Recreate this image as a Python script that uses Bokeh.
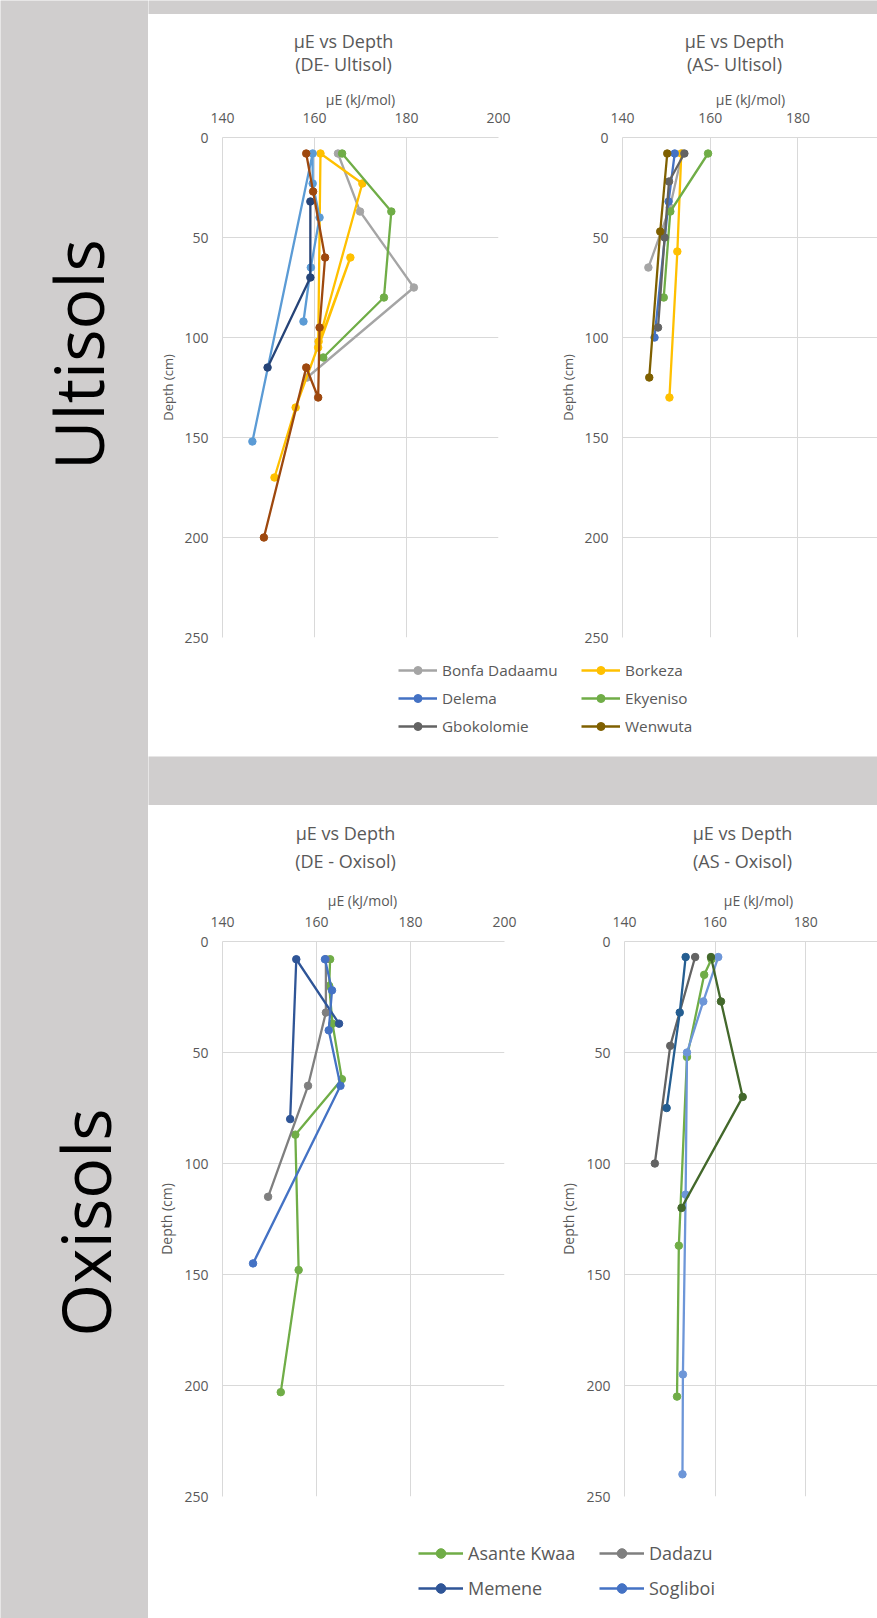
import math
import numpy as np
from bokeh.plotting import figure
from bokeh.models import Range1d, FixedTicker, Label, Legend, LegendItem
from bokeh.layouts import row, column
from bokeh.embed import file_html
from bokeh.resources import INLINE

# ---------------- data ----------------
mu_ticks = [140, 160, 180, 200]
depth_ticks = [0, 50, 100, 150, 200, 250]

ult_names = ["Bonfa Dadaamu", "Borkeza", "Delema", "Ekyeniso", "Gbokolomie", "Wenwuta"]
oxi_names = ["Asante Kwaa", "Dadazu", "Memene", "Sogliboi"]

# DE - Ultisol (muE kJ/mol, depth cm)
de_bonfa_mu = [165.1, 169.9, 181.6, 158.4]
de_bonfa_depth = [8, 37, 75, 120]
de_borkeza_mu = [160.9, 170.4, 161.3, 160.8, 167.8, 155.9, 151.3]
de_borkeza_depth = [102, 23, 8, 105, 60, 135, 170]
de_delema_mu = [146.5, 159.6, 159.6, 161.1, 159.2, 157.6]
de_delema_depth = [152, 8, 23, 40, 65, 92]
de_ekyeniso_mu = [166.0, 176.7, 175.1, 161.9]
de_ekyeniso_depth = [8, 37, 80, 110]
de_gbok_mu = [159.1, 159.1, 149.8]
de_gbok_depth = [32, 70, 115]
de_wenwuta_mu = [158.2, 159.7, 162.3, 161.1, 160.8, 158.2, 149.0]
de_wenwuta_depth = [8, 27, 60, 95, 130, 115, 200]

# AS - Ultisol
as_bonfa_mu = [153.6, 150.8, 145.9]
as_bonfa_depth = [8, 35, 65]
as_borkeza_mu = [153.4, 152.5, 150.7]
as_borkeza_depth = [8, 57, 130]
as_delema_mu = [151.9, 150.5, 147.3]
as_delema_depth = [8, 32, 100]
as_ekyeniso_mu = [159.5, 150.9, 149.4]
as_ekyeniso_depth = [8, 37, 80]
as_gbok_mu = [154.1, 150.6, 149.6, 148.1]
as_gbok_depth = [8, 22, 50, 95]
as_wenwuta_mu = [150.2, 148.6, 146.1]
as_wenwuta_depth = [8, 47, 120]

# DE - Oxisol
de_asante_mu = [162.9, 162.7, 163.4, 165.4, 155.5, 156.2, 152.4]
de_asante_depth = [8, 20, 37, 62, 87, 148, 203]
de_dadazu_mu = [162.0, 162.0, 158.2, 149.7]
de_dadazu_depth = [8, 32, 65, 115]
de_memene_mu = [164.8, 155.7, 154.4]
de_memene_depth = [37, 8, 80]
de_sogliboi_mu = [161.8, 163.3, 162.6, 165.1, 146.5]
de_sogliboi_depth = [8, 22, 40, 65, 145]

# AS - Oxisol
as_asante_mu = [159.2, 157.6, 153.8, 152.0, 151.6]
as_asante_depth = [8, 15, 52, 137, 205]
as_dadazu_mu = [155.6, 150.1, 146.7]
as_dadazu_depth = [7, 47, 100]
as_memene_mu = [153.5, 152.2, 149.3]
as_memene_depth = [7, 32, 75]
as_sogliboi_mu = [160.7, 157.4, 153.8, 153.5, 152.9, 152.8]
as_sogliboi_depth = [7, 27, 50, 114, 195, 240]
as_extra_mu = [159.1, 161.3, 166.1, 152.6]
as_extra_depth = [7, 27, 70, 120]

# ---------------- styles ----------------
FONT = "Open Sans"
TXT = "#595959"
GRID = "#d9d9d9"
GRAY = "#d0cece"

de_ult_colors = ["#A5A5A5", "#FFC000", "#5B9BD5", "#70AD47", "#264478", "#9E480E"]
as_ult_colors = ["#A5A5A5", "#FFC000", "#4472C4", "#70AD47", "#636363", "#7F6000"]
de_oxi_colors = ["#70AD47", "#7F7F7F", "#2F5597", "#4472C4"]
as_oxi_colors = ["#70AD47", "#636363", "#255E91", "#6D96D8", "#43682B"]


def make_panel(w, h, bl, br, bt, bb, x_end, yl_size, yl_standoff):
    p = figure(width=w, height=h, output_backend="svg", toolbar_location=None,
               x_range=Range1d(140, x_end), y_range=Range1d(250, 0),
               x_axis_location="above", y_axis_location="left",
               y_axis_label="Depth (cm)",
               min_border_left=bl, min_border_right=br,
               min_border_top=bt, min_border_bottom=bb)
    p.outline_line_color = None
    p.border_fill_color = "white"
    p.background_fill_color = "white"
    p.xaxis.ticker = FixedTicker(ticks=mu_ticks)
    p.yaxis.ticker = FixedTicker(ticks=depth_ticks)
    p.axis.axis_line_color = GRID
    p.axis.major_tick_line_color = None
    p.axis.minor_tick_line_color = None
    p.axis.major_label_text_font = FONT
    p.axis.major_label_text_font_size = "14px"
    p.axis.major_label_text_color = TXT
    p.yaxis.axis_label_text_font = FONT
    p.yaxis.axis_label_text_font_style = "normal"
    p.yaxis.axis_label_text_color = TXT
    p.yaxis.axis_label_text_font_size = yl_size
    p.xaxis.major_label_standoff = 9
    p.yaxis.major_label_standoff = 8
    p.yaxis.axis_label_standoff = yl_standoff
    p.grid.grid_line_color = GRID
    p.grid.grid_line_width = 1
    return p


def draw_series(p, mu, depth, color):
    p.line(mu, depth, line_color=color, line_width=2.3)
    p.scatter(mu, depth, marker="circle", size=7.5, fill_color=color, line_color=color)


def plain(x0, y0, w, h, color):
    # a box whose data coordinates are the page's pixel coordinates
    f = figure(width=w, height=h, output_backend="svg", toolbar_location=None,
               x_range=Range1d(x0, x0 + w), y_range=Range1d(y0 + h, y0),
               x_axis_location=None, y_axis_location=None, min_border=0)
    f.grid.visible = False
    f.outline_line_color = None
    f.background_fill_color = color
    f.border_fill_color = color
    return f


def head(x0, y0, w, h, cx, y1, y2, sub, ax_x, ax_y):
    f = plain(x0, y0, w, h, "white")
    for xx, yy, t, fs in ((cx, y1, "µE vs Depth", "18px"), (cx, y2, sub, "18px"),
                          (ax_x, ax_y, "µE (kJ/mol)", "14px")):
        f.add_layout(Label(x=xx, y=yy, text=t, text_font=FONT, text_font_size=fs,
                           text_color=TXT, text_align="center", text_baseline="middle"))
    return f


def legend_box(f, names, colors, loc, gw, gh, sp, fs):
    items = []
    for n, c in zip(names, colors):
        lr = f.line(x=np.array([np.nan]), y=np.array([np.nan]), line_color=c, line_width=2.3)
        sr = f.scatter(x=np.array([np.nan]), y=np.array([np.nan]), marker="circle",
                       size=7, fill_color=c, line_color=c)
        items.append(LegendItem(label=n, renderers=[lr, sr]))
    leg = Legend(items=items, location=loc, orientation="vertical",
                 glyph_width=gw, glyph_height=gh, label_height=gh, label_standoff=5,
                 spacing=sp, padding=0, margin=0, border_line_color=None,
                 background_fill_alpha=0, label_text_font=FONT,
                 label_text_font_size=fs, label_text_color=TXT,
                 inactive_fill_alpha=0)
    f.add_layout(leg)


# ---- top row ----
h1 = head(148, 14, 408, 94, 343, 40, 63, "(DE- Ultisol)", 360, 99)
h2 = head(556, 14, 321, 94, 734, 40, 63, "(AS- Ultisol)", 750, 99)

f1 = make_panel(408, 540, 74, 58, 29, 11, 200, "13px", 4)
for mu, d, c in zip([de_bonfa_mu, de_borkeza_mu, de_delema_mu, de_ekyeniso_mu, de_gbok_mu, de_wenwuta_mu],
                    [de_bonfa_depth, de_borkeza_depth, de_delema_depth, de_ekyeniso_depth, de_gbok_depth, de_wenwuta_depth],
                    de_ult_colors):
    draw_series(f1, mu, d, c)

f2 = make_panel(321, 540, 58, 0, 29, 11, 140 + 263 / 4.525, "13px", 4)
for mu, d, c in zip([as_bonfa_mu, as_borkeza_mu, as_delema_mu, as_ekyeniso_mu, as_gbok_mu, as_wenwuta_mu],
                    [as_bonfa_depth, as_borkeza_depth, as_delema_depth, as_ekyeniso_depth, as_gbok_depth, as_wenwuta_depth],
                    as_ult_colors):
    draw_series(f2, mu, d, c)

leg1 = plain(148, 648, 729, 108, "white")
legend_box(leg1, ult_names[0::2], as_ult_colors[0::2], (250, 20), 39, 20, 8, "15.3px")
legend_box(leg1, ult_names[1::2], as_ult_colors[1::2], (433, 20), 39, 20, 8, "15.3px")

gap_top = plain(148, 0, 729, 14, GRAY)
gap_mid = plain(148, 756, 729, 49, GRAY)

# ---- bottom row ----
h3 = head(148, 805, 408, 107, 345, 832, 860, "(DE - Oxisol)", 362, 900)
h4 = head(556, 805, 321, 107, 742, 832, 860, "(AS - Oxisol)", 758, 900)

f3 = make_panel(408, 598, 74, 52, 29, 14, 200, "14px", 5)
for mu, d, c in zip([de_asante_mu, de_dadazu_mu, de_memene_mu, de_sogliboi_mu],
                    [de_asante_depth, de_dadazu_depth, de_memene_depth, de_sogliboi_depth],
                    de_oxi_colors):
    draw_series(f3, mu, d, c)

f4 = make_panel(321, 598, 64, 0, 29, 14, 140 + 257 / 4.6, "14px", 5)
for mu, d, c in zip([as_asante_mu, as_dadazu_mu, as_memene_mu, as_sogliboi_mu, as_extra_mu],
                    [as_asante_depth, as_dadazu_depth, as_memene_depth, as_sogliboi_depth, as_extra_depth],
                    as_oxi_colors):
    draw_series(f4, mu, d, c)

leg2 = plain(148, 1510, 729, 108, "white")
legend_box(leg2, oxi_names[0::2], de_oxi_colors[0::2], (270, 18), 45, 24, 11, "18px")
legend_box(leg2, oxi_names[1::2], de_oxi_colors[1::2], (451, 18), 45, 24, 11, "18px")

# ---- left strip ----
strip = plain(0, 0, 148, 1618, GRAY)
strip.add_layout(Label(x=77, y=354, text="Ultisols", angle=math.pi / 2,
                       text_font=FONT, text_font_size="68px", text_color="black",
                       text_align="center", text_baseline="middle"))
strip.add_layout(Label(x=84, y=1222, text="Oxisols", angle=math.pi / 2,
                       text_font=FONT, text_font_size="68px", text_color="black",
                       text_align="center", text_baseline="middle"))

right = column(gap_top, row(h1, h2), row(f1, f2), leg1, gap_mid,
               row(h3, h4), row(f3, f4), leg2)
page = row(strip, right)

open("out.html", "w").write(file_html(page, INLINE))
